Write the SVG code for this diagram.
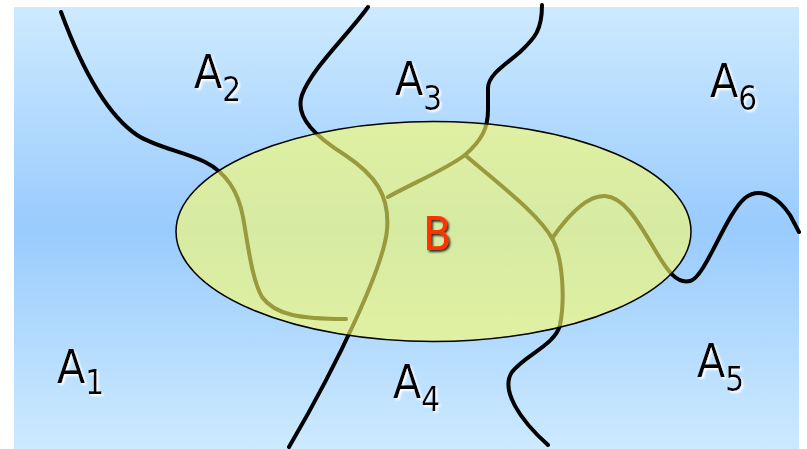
<svg xmlns="http://www.w3.org/2000/svg" width="807" height="449" viewBox="0 0 807 449">
<defs>
<linearGradient id="bg" x1="0" y1="0" x2="0" y2="1">
<stop offset="0" stop-color="#cdeaff"/>
<stop offset="0.5" stop-color="#99cbfd"/>
<stop offset="1" stop-color="#cdeaff"/>
</linearGradient>
<filter id="glow" x="-20%" y="-20%" width="150%" height="150%">
<feDropShadow dx="2" dy="2" stdDeviation="1" flood-color="#ffffff" flood-opacity="1"/>
</filter>
<filter id="shadow" x="-20%" y="-20%" width="150%" height="150%">
<feDropShadow dx="2" dy="2" stdDeviation="1" flood-color="#000000" flood-opacity="0.8"/>
</filter>
</defs>
<style>
.line{fill:none;stroke:#000;stroke-width:4;stroke-linecap:round;stroke-linejoin:round}
.lbl{font-family:"DejaVu Sans","Liberation Sans",sans-serif;font-size:46px;fill:#000;filter:url(#glow)}
.sub{font-size:33px}
.b{font-family:"DejaVu Sans","Liberation Sans",sans-serif;font-size:46px;fill:#ff3300;filter:url(#shadow)}
</style>
<rect x="14" y="7" width="785" height="442" fill="url(#bg)"/>
<g id="connectors">
<path class="line" d="M61,12 C75,50 100,110 137,135 C155,147 185,152 205,162 C225,172 238,190 243,217 C248,245 252,280 262,297 C275,315 300,319 346,319"/>
<path class="line" d="M368,7 C348,35 312,68 302,95 C294,118 318,138 345,155 C375,175 390,195 387,230 C384,265 340,360 289,447"/>
<path class="line" d="M388,197 C415,182 445,170 465,155 C482,140 488,128 488,110 L488,88 C488,75 505,65 520,52 C535,38 542,30 542,5"/>
<path class="line" d="M465,155 C500,185 540,215 553,240 C563,260 565,300 560,325 C555,345 525,355 512,372 C500,390 520,420 548,445"/>
<path class="line" d="M553,237 C565,220 585,195 605,196 C625,197 640,225 655,250 C668,272 677,284 690,281 C705,278 725,215 745,198 C762,185 780,200 790,215 L799,232"/>
</g>
<g id="B">
<ellipse cx="433.5" cy="231.5" rx="257.5" ry="110" fill="#ffff66" fill-opacity="0.6" stroke="#000" stroke-width="1.5"/>
<text class="b" transform="translate(423,250) scale(0.9,1)">B</text>
</g>
<g id="A1"><text class="lbl" transform="translate(57,383) scale(0.9,1)">A<tspan class="sub" dy="11">1</tspan></text></g>
<g id="A2"><text class="lbl" transform="translate(194,88) scale(0.9,1)">A<tspan class="sub" dy="13">2</tspan></text></g>
<g id="A3"><text class="lbl" transform="translate(395,95) scale(0.9,1)">A<tspan class="sub" dy="15">3</tspan></text></g>
<g id="A4"><text class="lbl" transform="translate(393,398) scale(0.9,1)">A<tspan class="sub" dy="13">4</tspan></text></g>
<g id="A5"><text class="lbl" transform="translate(697,377) scale(0.9,1)">A<tspan class="sub" dy="14">5</tspan></text></g>
<g id="A6"><text class="lbl" transform="translate(710,97) scale(0.9,1)">A<tspan class="sub" dy="13">6</tspan></text></g>
</svg>
